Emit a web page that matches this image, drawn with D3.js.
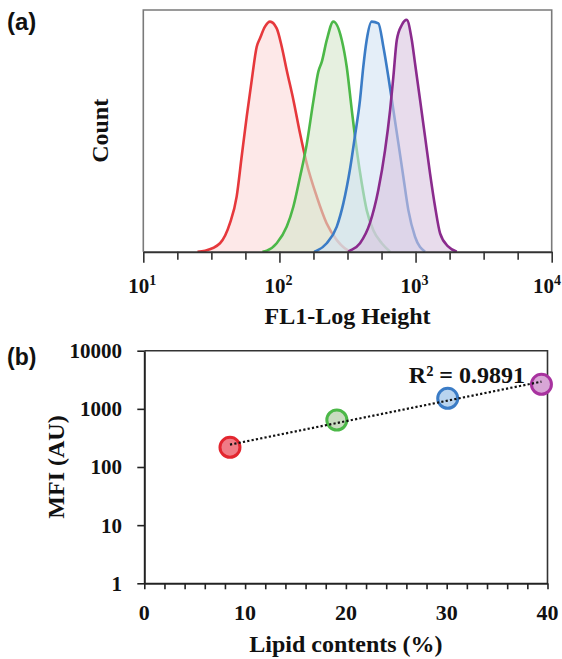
<!DOCTYPE html>
<html>
<head>
<meta charset="utf-8">
<script src="https://cdn.jsdelivr.net/npm/d3@7/dist/d3.min.js"></script>
<style>
  html, body { margin: 0; padding: 0; background: #fff; }
  svg { display: block; }
  .serif { font-family: "Liberation Serif", "Times New Roman", serif; font-weight: bold; fill: #111; }
  .sans { font-family: "Liberation Sans", Arial, sans-serif; font-weight: bold; fill: #111; }
</style>
</head>
<body>
<svg id="chart" width="562" height="659"></svg>
<script>
// ---------------- Data ----------------
// Panel (a): flow cytometry histograms (FL1 value, relative count 0-100)
const seriesNames = ["S1", "S2", "S3", "S4"];
const redFL   = [25, 28.4, 36.6, 43.3, 48.5, 52.8, 57.5, 62.6, 68.1, 72, 78.3, 85.3, 95.5, 104, 113, 126.6, 141.6, 158.5, 188, 222, 264, 300, 330];
const redCnt  = [0, 0.4, 3.5, 11.8, 22.8, 39.4, 55.9, 71, 84.8, 88.3, 93.1, 95.2, 92.4, 84.8, 75.2, 62.8, 49, 36.6, 22.8, 11.8, 4.8, 1.5, 0];
const greenFL  = [75, 80.7, 95.5, 113.2, 126.5, 141.6, 158.5, 177.4, 193.1, 204.6, 222.6, 248.9, 287, 312, 340, 370, 402.5, 437.5, 489.5, 564.5, 650];
const greenCnt = [0, 0.4, 3.5, 10.4, 18.6, 30.9, 44.3, 62.2, 74.5, 78.5, 87.5, 95.2, 87.6, 76.5, 58.6, 42, 28.3, 17.2, 8.9, 3.5, 0];
const blueFL   = [180, 188, 222.6, 263.8, 295, 330, 359, 390.8, 413, 437.5, 476, 533, 580, 631, 687, 748, 813, 885, 991, 1174];
const blueCnt  = [0, 0.4, 3.5, 10.4, 20.1, 34.2, 48, 62.8, 76.5, 87.6, 95.2, 94.5, 84.8, 72.4, 58.6, 44.8, 31, 17.2, 6.2, 0];
const purpleFL  = [320, 330, 390.8, 462, 533, 597, 650, 687, 728, 792, 861, 938, 991, 1079, 1174, 1277, 1391, 1514, 1742, 2009];
const purpleCnt = [0, 0.4, 3.5, 11.8, 25.6, 42, 58.6, 72.4, 87.6, 93.8, 95.9, 87.6, 77.9, 62.8, 47.6, 32.4, 18.6, 7.6, 2.1, 0];
const histTickExps = [1, 2, 3, 4];

// Panel (b): MFI vs lipid content
const lipid = [8.5, 19.1, 30.1, 39.4];
const mfi   = [218, 643, 1518, 2644];
const mfiTicks = [1, 10, 100, 1000, 10000];
const lipidTicks = [0, 10, 20, 30, 40];
const r2Label = "R² = 0.9891";

// ---------------- Styles ----------------
const lineColors = ["#e6383c", "#4cb848", "#3b7cc6", "#8a2b8d"];
const fillColors = ["#fbd9d9", "#d5e6cb", "#d2e3f3", "#d9c5df"];
const dotFill    = ["#f07c86", "#c9dcc0", "#b9d4ef", "#d8a6d6"];
const dotStroke  = ["#e3262f", "#4cb848", "#3b7cc6", "#a8329f"];

const svg = d3.select("#chart");
svg.append("rect").attr("width", 562).attr("height", 659).attr("fill", "#fff");

// ================= Panel (a) =================
const A = { left: 143.3, right: 551.7, top: 10, bottom: 251.7 };
const xA = d3.scaleLog().domain([10, 10000]).range([A.left, A.right]);
const yA = d3.scaleLinear().domain([0, 100]).range([A.bottom, A.top]);

const hist = [
  { fl: redFL, cnt: redCnt },
  { fl: greenFL, cnt: greenCnt },
  { fl: blueFL, cnt: blueCnt },
  { fl: purpleFL, cnt: purpleCnt }
];

const area = d3.area().x(d => xA(d[0])).y0(yA(0)).y1(d => yA(d[1])).curve(d3.curveMonotoneX);
const line = d3.line().x(d => xA(d[0])).y(d => yA(d[1])).curve(d3.curveMonotoneX);

const gA = svg.append("g");
hist.forEach((h, i) => {
  const pts = h.fl.map((v, j) => [v, h.cnt[j]]);
  gA.append("path").attr("d", area(pts)).attr("fill", fillColors[i]).attr("fill-opacity", 0.6);
  gA.append("path").attr("d", line(pts)).attr("fill", "none")
    .attr("stroke", lineColors[i]).attr("stroke-width", 2.6).attr("stroke-linejoin", "round");
});

// frame
gA.append("path")
  .attr("d", `M${A.left},${A.bottom}V${A.top}H${A.right}V${A.bottom}`)
  .attr("fill", "none").attr("stroke", "#7a7a7a").attr("stroke-width", 1.6);

// x axis (quarter-decade ticks)
const tickVals = d3.range(0, 13).map(k => Math.pow(10, 1 + k / 4));
const axA = d3.axisBottom(xA).tickValues(tickVals).tickSize(9).tickSizeOuter(0).tickFormat("");
const gAx = svg.append("g").attr("transform", `translate(0,${A.bottom})`).call(axA);
gAx.select(".domain").attr("stroke", "#333").attr("stroke-width", 2);
gAx.selectAll(".tick line").attr("stroke", "#333").attr("stroke-width", 1.6)
  .attr("y2", (d, i) => (i % 4 === 0 ? 11 : 8));

histTickExps.forEach(e => {
  const px = xA(Math.pow(10, e)) - 1;
  const last = e === histTickExps[histTickExps.length - 1];
  const t = svg.append("text").attr("class", "serif")
    .attr("x", last ? 561 : px).attr("y", 293)
    .attr("text-anchor", last ? "end" : "middle").attr("font-size", 21);
  t.append("tspan").text("10");
  t.append("tspan").attr("font-size", 14).attr("dy", -8).text(String(e));
});

svg.append("text").attr("class", "serif").attr("font-size", 24)
  .attr("x", (A.left + A.right) / 2).attr("y", 324).attr("text-anchor", "middle")
  .text("FL1-Log Height");
svg.append("text").attr("class", "serif").attr("font-size", 24)
  .attr("transform", `translate(108,${(A.top + A.bottom) / 2}) rotate(-90)`)
  .attr("text-anchor", "middle").text("Count");
svg.append("text").attr("class", "sans").attr("font-size", 24)
  .attr("x", 7).attr("y", 30).text("(a)");

// ================= Panel (b) =================
const B = { left: 144.3, right: 547.5, top: 350.7, bottom: 583.3 };
const xB = d3.scaleLinear().domain([0, 40]).range([B.left, B.right]);
const yB = d3.scaleLog().domain([1, 10000]).range([B.bottom, B.top]);

// frame top/right
svg.append("path")
  .attr("d", `M${B.left},${B.top}H${B.right}V${B.bottom}`)
  .attr("fill", "none").attr("stroke", "#333").attr("stroke-width", 1.6);

const axBy = d3.axisLeft(yB).tickValues(mfiTicks).tickSize(7).tickSizeOuter(0).tickFormat("");
const gBy = svg.append("g").attr("transform", `translate(${B.left},0)`).call(axBy);
gBy.select(".domain").attr("stroke", "#222").attr("stroke-width", 2);
gBy.selectAll(".tick line").attr("stroke", "#222").attr("stroke-width", 1.6);
mfiTicks.forEach(v => {
  svg.append("text").attr("class", "serif").attr("font-size", 21)
    .attr("x", 122).attr("y", yB(v)).attr("dy", "0.35em")
    .attr("text-anchor", "end").text(d3.format("d")(v));
});

const axBx = d3.axisBottom(xB).tickValues(d3.range(0, 41, 2)).tickSize(6).tickSizeOuter(0).tickFormat("");
const gBx = svg.append("g").attr("transform", `translate(0,${B.bottom})`).call(axBx);
gBx.select(".domain").attr("stroke", "#222").attr("stroke-width", 2);
gBx.selectAll(".tick line").attr("stroke", "#222").attr("stroke-width", 1.6);
lipidTicks.forEach(v => {
  svg.append("text").attr("class", "serif").attr("font-size", 22)
    .attr("x", xB(v)).attr("y", 620).attr("text-anchor", "middle").text(v);
});

// points
lipid.forEach((x, i) => {
  svg.append("circle").attr("cx", xB(x)).attr("cy", yB(mfi[i])).attr("r", 10)
    .attr("fill", dotFill[i]).attr("stroke", dotStroke[i]).attr("stroke-width", 3);
});

// exponential trendline (least squares on log values)
const lnY = mfi.map(v => Math.log(v));
const mx = d3.mean(lipid), my = d3.mean(lnY);
const b = d3.sum(lipid.map((x, i) => (x - mx) * (lnY[i] - my))) / d3.sum(lipid.map(x => (x - mx) ** 2));
const a = my - b * mx;
const x0 = d3.min(lipid), x1 = d3.max(lipid);
svg.append("line")
  .attr("x1", xB(x0)).attr("y1", yB(Math.exp(a + b * x0)))
  .attr("x2", xB(x1)).attr("y2", yB(Math.exp(a + b * x1)))
  .attr("stroke", "#111").attr("stroke-width", 2.2).attr("stroke-dasharray", "2.2,2.2");

svg.append("text").attr("class", "serif").attr("font-size", 24)
  .attr("x", 525).attr("y", 383).attr("text-anchor", "end").text(r2Label);

svg.append("text").attr("class", "serif").attr("font-size", 24)
  .attr("x", (B.left + B.right) / 2).attr("y", 652).attr("text-anchor", "middle")
  .text("Lipid contents (%)");
svg.append("text").attr("class", "serif").attr("font-size", 24)
  .attr("transform", `translate(64,${(B.top + B.bottom) / 2}) rotate(-90)`)
  .attr("text-anchor", "middle").text("MFI (AU)");
svg.append("text").attr("class", "sans").attr("font-size", 23)
  .attr("x", 7).attr("y", 365).text("(b)");
</script>
</body>
</html>
